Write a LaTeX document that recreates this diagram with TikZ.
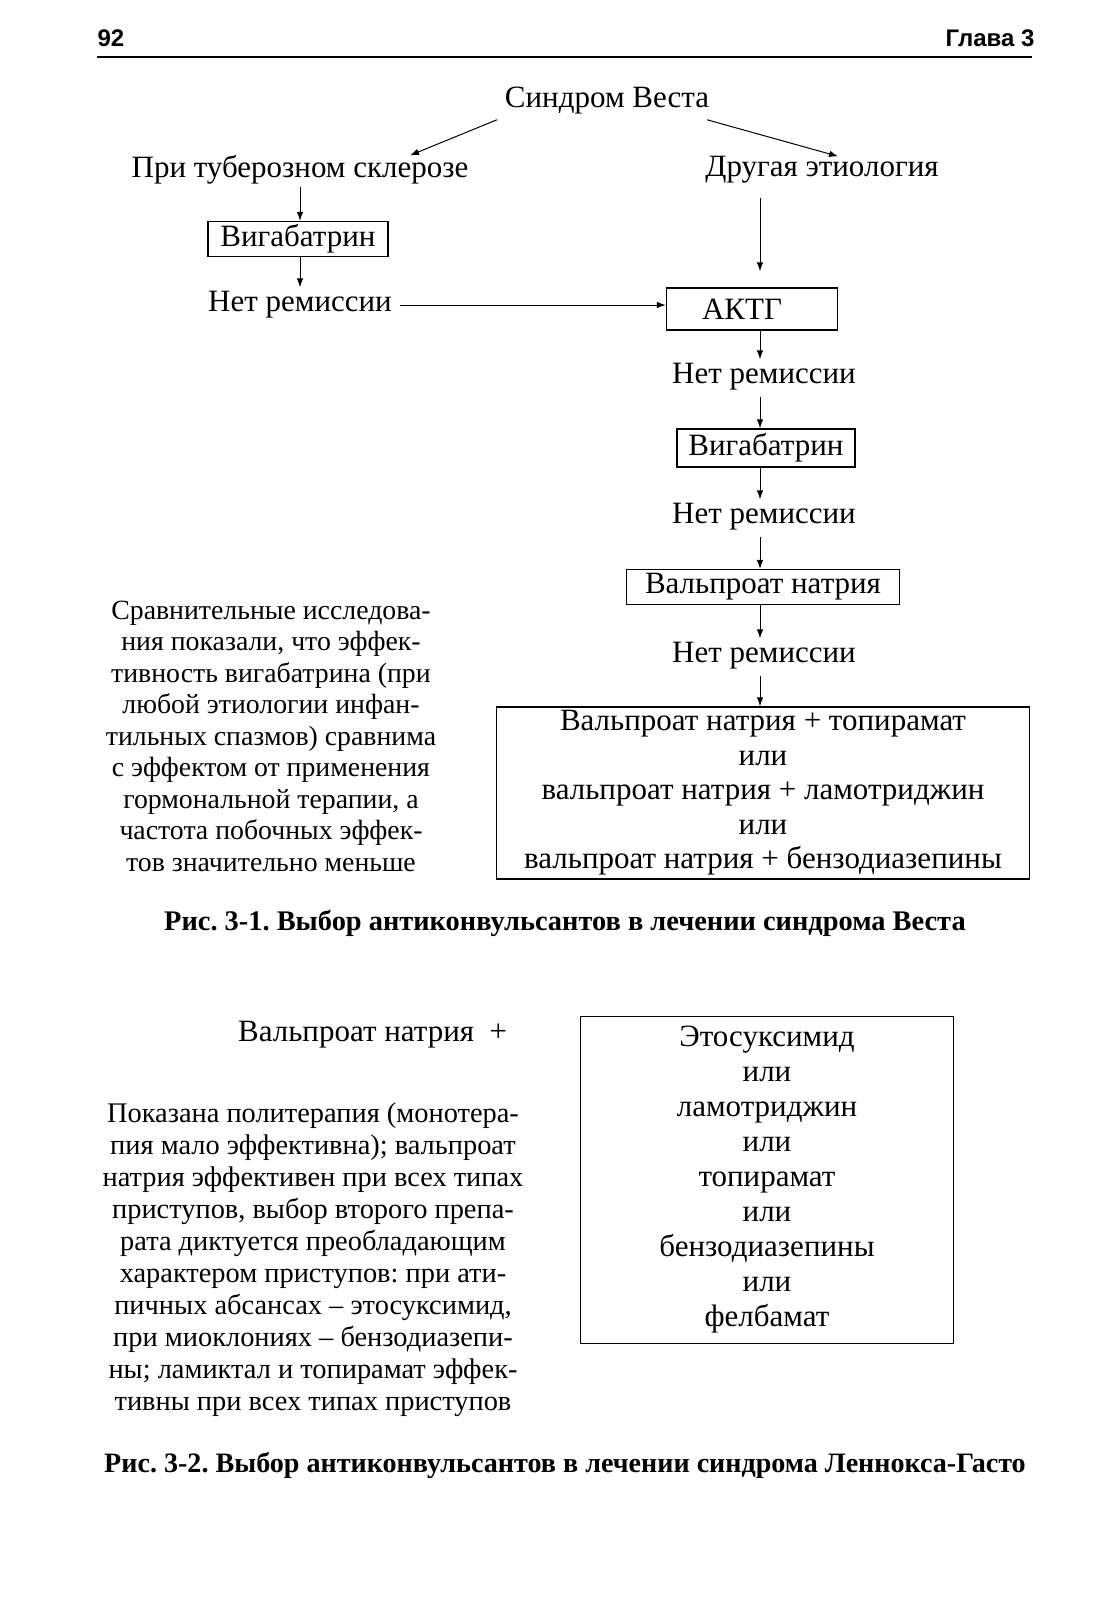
\documentclass[tikz,border=0pt]{standalone}
\usepackage{fontspec}
\setmainfont{Liberation Serif}
\newfontfamily\headfont{Liberation Sans}
\usepackage{tikz}
\usetikzlibrary{positioning}
\usetikzlibrary{arrows.meta}
\frenchspacing
\tikzset{>={Latex[length=9pt,width=6.5pt]}}
\tikzset{
  lbl/.style={inner sep=2pt, font=\fontsize{31}{35}\selectfont},
  drug/.style={lbl, draw, line width=1.3pt, inner sep=0pt},
  note/.style={align=center, inner sep=0pt, font=\fontsize{27.8}{31.5}\selectfont},
  capt/.style={inner sep=0pt, font=\bfseries\fontsize{28.4}{31}\selectfont},
  flow/.style={->, line width=1pt},
}

\begin{document}
\begin{tikzpicture}[x=1pt, y=-1pt]

\useasboundingbox (0,0) rectangle (1103,1600);

% Running head
\node[inner sep=0pt, font=\headfont\bfseries\fontsize{24}{26}\selectfont] (page) at (111,38) {92};
\node[inner sep=0pt, font=\headfont\bfseries\fontsize{24}{26}\selectfont] (chap) at (990,38) {Глава 3};
\draw[line width=1.5pt] (97,57) -- (1032,57);

% West syndrome: top
\node[lbl] (west) at (607,101) {Синдром Веста};
\node[lbl] (tub) at (300,170) {При туберозном склерозе};
\node[lbl] (other) at (822,170) {Другая этиология};

\draw[flow] ([xshift=-110pt,yshift=-3pt]west.south) -- ([xshift=110pt,yshift=-2pt]tub.north);
\draw[flow] ([xshift=100pt,yshift=-3pt]west.south) -- ([xshift=16pt,yshift=-2pt]other.north);

% Left branch
\node[drug, minimum width=180pt, minimum height=35pt] (vigL) at (298,239) {Вигабатрин};
\node[lbl] (noremL) at (300,305) {Нет ремиссии};

\draw[flow] (tub.south) -- (vigL.north -| tub.south);
\draw[flow] (vigL.south -| tub.south) -- ([yshift=2pt]noremL.north);

% Right branch
\node[drug, minimum width=171pt, minimum height=42pt] (acth) at (752,309) {АКТГ\hspace*{20pt}};
\node[lbl] (nrem1) at (764,377) {Нет ремиссии};
\node[drug, minimum width=178pt, minimum height=38pt] (vigR) at (766,448) {Вигабатрин};
\node[lbl] (nrem2) at (764,517) {Нет ремиссии};
\node[drug, minimum width=273pt, minimum height=35pt] (valp) at (763,587) {Вальпроат натрия};
\node[lbl] (nrem3) at (764,656) {Нет ремиссии};
\node[drug, align=center, minimum width=533pt, minimum height=172pt,
      font=\fontsize{31}{34.5}\selectfont] (combo) at (763,793)
  {Вальпроат натрия + топирамат\\ или\\ вальпроат натрия + ламотриджин\\ или\\ вальпроат натрия + бензодиазепины};

\draw[flow, shorten <=6pt] (noremL.east) -- (noremL.east -| acth.west);
\draw[flow, shorten <=12pt, shorten >=16pt] ([xshift=-62pt]other.south) -- (acth.north -| 760,0);
\draw[flow] (acth.south -| 760,0) -- ([yshift=2pt]nrem1.north -| 760,0);
\draw[flow] ([yshift=-4pt]nrem1.south -| 760,0) -- (vigR.north -| 760,0);
\draw[flow] (vigR.south -| 760,0) -- ([yshift=2pt]nrem2.north -| 760,0);
\draw[flow] ([yshift=-4pt]nrem2.south -| 760,0) -- (valp.north -| 760,0);
\draw[flow] (valp.south -| 760,0) -- ([yshift=2pt]nrem3.north -| 760,0);
\draw[flow] ([yshift=-4pt]nrem3.south -| 760,0) -- (combo.north -| 760,0);

% Side note 1
\node[note] (note1) at (271,736)
  {Сравнительные исследова-\\ ния показали, что эффек-\\ тивность вигабатрина (при\\
   любой этиологии инфан-\\ тильных спазмов) сравнима\\ с эффектом от применения\\
   гормональной терапии, а\\ частота побочных эффек-\\ тов значительно меньше};

\node[capt] (cap1) at (565,923) {Рис. 3-1. Выбор антиконвульсантов в лечении синдрома Веста};

% Lennox-Gastaut
\node[lbl, anchor=west] (valp2) at (236,1035) {Вальпроат натрия\ \ +};
\node[drug, align=center, minimum width=373pt, minimum height=327pt,
      font=\fontsize{31}{35}\selectfont] (alts) at (767,1180)
  {Этосуксимид\\ или\\ ламотриджин\\ или\\ топирамат\\ или\\ бензодиазепины\\ или\\ фелбамат};

\node[note, font=\fontsize{28.4}{32}\selectfont] (note2) at (313,1260)
  {Показана политерапия (монотера-\\ пия мало эффективна); вальпроат\\
   натрия эффективен при всех типах\\ приступов, выбор второго препа-\\
   рата диктуется преобладающим\\ характером приступов: при ати-\\
   пичных абсансах – этосуксимид,\\ при миоклониях – бензодиазепи-\\
   ны; ламиктал и топирамат эффек-\\ тивны при всех типах приступов};

\node[capt, font=\bfseries\fontsize{28.1}{31}\selectfont] (cap2) at (565,1465) {Рис. 3-2. Выбор антиконвульсантов в лечении синдрома Леннокса-Гасто};

\end{tikzpicture}
\end{document}
